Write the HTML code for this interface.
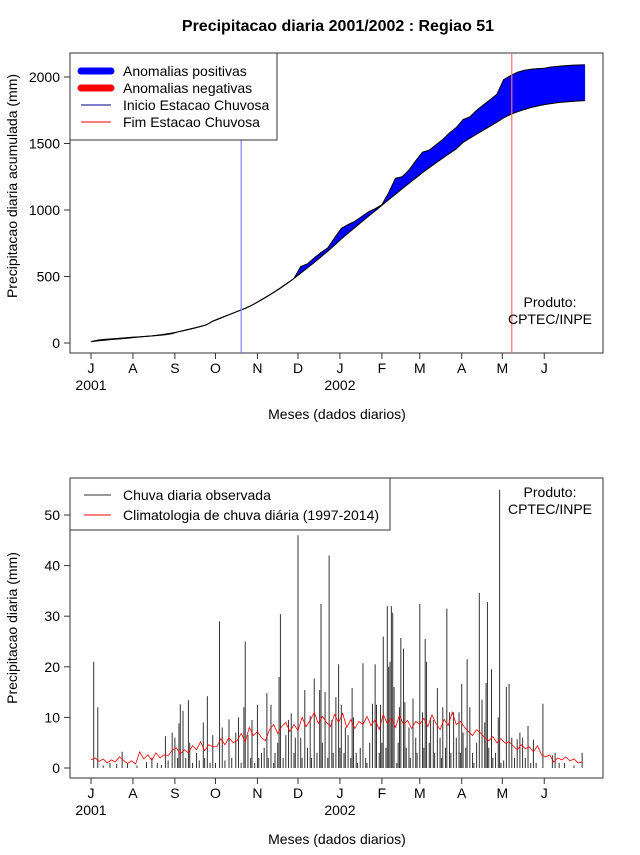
<!DOCTYPE html>
<html><head><meta charset="utf-8"><style>
body{margin:0;background:#fff;}
svg text{font-family:"Liberation Sans",Arial,sans-serif;fill:#000;}
</style></head><body>
<svg id="chart" width="640" height="850" viewBox="0 0 640 850" xmlns="http://www.w3.org/2000/svg">
<rect width="640" height="850" fill="#fff"/>
<text x="338" y="31" font-size="16" font-weight="bold" text-anchor="middle">Precipitacao diaria 2001/2002 : Regiao 51</text>
<g id="top"></g>
<g id="bot"></g>
</svg>
<script>
// ---- data ----
const monthDays = [0,31,62,92,123,153,184,215,243,274,304,335];
const monthLabels = ["J","A","S","O","N","D","J","F","M","A","M","J"];
const yearDays = [0,184];
const yearLabels = ["2001","2002"];
const topTicks = [0,500,1000,1500,2000];
const botTicks = [0,10,20,30,40,50];
const cumDays = [0,5,10,15,20,25,30,35,40,45,50,55,60,65,70,75,80,85,90,95,100,105,110,115,120,125,130,135,140,145,150,155,160,165,170,175,180,185,190,195,200,205,210,215,220,225,230,235,240,245,250,255,260,265,270,275,280,285,290,295,300,305,310,315,320,325,330,335,340,345,350,355,360,365];
const cumClim = [10,16,21,26,30,34,39,44,49,54,60,67,75,85,96,108,121,135,165,185,205,225,245,265,290,320,350,380,415,450,485,525,565,605,648,690,735,782,825,868,910,952,993,1035,1077,1118,1160,1200,1240,1280,1318,1355,1390,1425,1460,1508,1540,1570,1600,1630,1660,1693,1718,1738,1755,1770,1782,1792,1800,1807,1812,1816,1820,1822];
const cumObs = [10,22,27,31,35,39,43,46,50,53,57,62,70,86,98,110,122,136,163,183,205,224,245,265,290,318,348,380,412,448,485,575,595,640,680,715,790,862,890,915,950,985,1010,1040,1130,1238,1250,1300,1370,1435,1450,1490,1530,1580,1620,1680,1700,1750,1790,1830,1870,1980,2010,2035,2050,2058,2063,2066,2075,2080,2085,2088,2090,2092];
const seasonStartDay = 111;
const seasonEndDay = 311;
const obsDay = [2,5,9,14,19,23,27,34,41,45,49,52,55,57,60,62,64,65,66,68,70,72,73,75,78,80,83,84,86,88,90,92,95,97,99,102,104,107,109,111,113,114,116,118,119,121,123,124,126,128,130,131,133,135,136,138,139,140,142,144,146,148,150,151,153,155,156,158,160,162,163,165,167,169,170,171,173,175,176,178,179,181,183,184,185,187,188,190,192,193,194,196,197,199,201,203,204,206,208,210,211,213,214,215,216,218,219,220,221,222,223,224,226,227,228,229,231,232,233,235,236,238,240,241,243,245,246,247,248,250,251,253,254,256,258,259,260,262,263,265,266,268,270,272,273,274,275,277,278,280,282,283,285,287,289,291,292,293,294,296,297,299,301,302,303,305,307,309,311,313,315,317,319,321,323,325,327,329,334,341,343,346,350,357,363];
const obsMm = [21,12,0.5,1,0.8,3.2,1,0.5,1.2,2,1,0.6,6.3,1.5,7,6,2,8.8,12.6,11.3,2,13.4,5,1,3,1.5,9,2,14.2,1,6.5,1,29,8,1.5,9.6,2,7,10,1,12,25,6.5,2,9.5,1,12.5,2,3,4,14.8,2,12.5,1,3,5,18,30.4,2,6.5,9.5,10.8,3,6,46,6,2,15.4,4,10.3,2,17.7,3,15.4,32.4,5,15,2,42,9.5,3,14,20.5,4,12.5,3,8,6.5,2,15.8,10,3,1,4,20.7,2,1,5,12.7,20.5,12.5,3,12.5,5,26,4,32,20,21,32,30.7,16,1,5,12,25.7,23.6,13,4,8,2,13.7,6,3,32.4,11,4,25.5,21,5,10,9.5,3,15.8,6,2,12,4,31.5,11,3,11,6,11,3,16.6,7,4,21.5,12,3,1,5,34.6,13.5,9,16.8,32.8,4,19.5,2,3,10,55,1,1.5,16,16.6,6,2,5.7,7,6,2,8.3,1,5.6,1,12.7,2.5,3,1,1,0.5,3];
const climStep = 3;
const climMm = [1.6,2.0,1.3,1.8,1.0,1.6,1.2,2.2,1.5,0.9,1.4,
0.8,3.2,1.8,2.6,1.5,3.0,2.0,2.6,2.4,3.5,
4.0,2.8,3.6,3.0,4.4,3.6,5.2,3.4,4.6,4.2,
4.2,5.8,4.6,6.0,5.0,5.4,6.8,5.2,8.0,6.4,
7.2,6.0,5.4,7.6,8.6,6.8,8.2,9.0,7.2,8.6,
7.4,10.0,8.2,9.4,11.0,8.8,10.2,9.0,8.2,10.6,9.0,
10.8,8.0,9.6,7.8,9.2,8.6,10.2,8.4,9.6,7.6,
10.6,8.8,9.8,8.0,10.4,8.6,9.4,7.8,9.2,
8.6,9.8,8.2,10.5,8.8,7.6,9.6,8.4,11.0,8.6,9.2,
8.1,7.2,6.4,7.6,6.9,6.0,5.4,6.2,5.0,5.8,
4.9,5.2,4.4,3.6,4.6,3.8,4.2,3.2,4.4,2.6,
2.2,2.6,1.2,2.0,1.6,2.2,1.4,1.8,1.0,1.2];

// ---- helpers ----
const NS="http://www.w3.org/2000/svg";
function mk(parent,tag,attrs,text){const e=document.createElementNS(NS,tag);for(const k in attrs)e.setAttribute(k,attrs[k]);if(text!==undefined)e.textContent=text;parent.appendChild(e);return e;}
const X0=70,X1=603;
function xDay(d){return 91+d*1.353;}

function axes(g,top,bottom,yMap,ticks,ylabel,ylabelY,prefix){
  const box=mk(g,'rect',{x:X0,y:top,width:X1-X0,height:bottom-top,fill:'none',stroke:'#333','stroke-width':1});
  
  
  ticks.forEach(t=>{const y=yMap(t);
    const l=mk(g,'line',{x1:X0-6,x2:X0,y1:y,y2:y,stroke:'#333'});
    
    
    const tx=mk(g,'text',{x:X0-10,y:y+5,'font-size':14,'text-anchor':'end'},String(t));
    
    
  });
  monthDays.forEach((d,i)=>{const x=xDay(d);
    const l=mk(g,'line',{x1:x,x2:x,y1:bottom,y2:bottom+6,stroke:'#333'});
    
    
    const tx=mk(g,'text',{x:x,y:bottom+20,'font-size':14,'text-anchor':'middle'},monthLabels[i]);
    
    
  });
  yearDays.forEach((d,i)=>{
    const tx=mk(g,'text',{x:xDay(d),y:bottom+37,'font-size':14,'text-anchor':'middle'},yearLabels[i]);
    
    
  });
  const xl=mk(g,'text',{x:337,y:bottom+66,'font-size':14,'text-anchor':'middle'},'Meses (dados diarios)');
  
  
  const yl=mk(g,'text',{x:17,y:ylabelY,'font-size':14,'text-anchor':'middle',transform:`rotate(-90 17 ${ylabelY})`},ylabel);
  
  
}

// ---- top chart ----
const gT=document.getElementById('top');
const tTop=53,tBot=353;
function yT(v){return 343-v*0.133;}
axes(gT,tTop,tBot,yT,topTicks,'Precipitacao diaria acumulada (mm)',186,'top');
for(let i=0;i<cumDays.length-1;i++){
  const a=cumDays[i],b=cumDays[i+1];
  const diff=(cumObs[i]-cumClim[i])+(cumObs[i+1]-cumClim[i+1]);
  const pts=`${xDay(a)},${yT(cumObs[i])} ${xDay(b)},${yT(cumObs[i+1])} ${xDay(b)},${yT(cumClim[i+1])} ${xDay(a)},${yT(cumClim[i])}`;
  const p=mk(gT,'polygon',{points:pts,fill:diff>=0?'#0000ff':'#ff0000',stroke:diff>=0?'#0000ff':'#ff0000','stroke-width':0.5});
  
  
}
const obsLine=mk(gT,'polyline',{points:cumDays.map((d,i)=>`${xDay(d)},${yT(cumObs[i])}`).join(' '),fill:'none',stroke:'#000','stroke-width':1});


const climLine=mk(gT,'polyline',{points:cumDays.map((d,i)=>`${xDay(d)},${yT(cumClim[i])}`).join(' '),fill:'none',stroke:'#000','stroke-width':1});


const sL=mk(gT,'line',{x1:xDay(seasonStartDay),x2:xDay(seasonStartDay),y1:tTop,y2:tBot,stroke:'#7f7fff','stroke-width':1.2});


const eL=mk(gT,'line',{x1:xDay(seasonEndDay),x2:xDay(seasonEndDay),y1:tTop,y2:tBot,stroke:'#ff7070','stroke-width':1.2});


// legend top
const lgT=mk(gT,'g',{});


mk(lgT,'rect',{x:70,y:53,width:207,height:87,fill:'#fff',stroke:'#333'});
[['Anomalias positivas','#0000ff',7],['Anomalias negativas','#ff0000',7],['Inicio Estacao Chuvosa','#000080',1],['Fim Estacao Chuvosa','#ff0000',1]].forEach((e,i)=>{
  const y=71+i*17;
  const it=mk(lgT,'g',{});
  
  
  mk(it,'line',{x1:81,x2:111,y1:y,y2:y,stroke:e[1],'stroke-width':e[2],'stroke-linecap':e[2]>2?'round':'butt'});
  mk(it,'text',{x:123,y:y+5,'font-size':14},e[0]);
});
const pT=mk(gT,'text',{x:550,y:307,'font-size':14,'text-anchor':'middle'},'Produto:');


mk(gT,'text',{x:550,y:324,'font-size':14,'text-anchor':'middle'},'CPTEC/INPE');

// ---- bottom chart ----
const gB=document.getElementById('bot');
const bTop=478,bBot=778;
function yB(v){return 768-v*5.06;}
axes(gB,bTop,bBot,yB,botTicks,'Precipitacao diaria (mm)',628,'bottom');
obsDay.forEach((d,i)=>{
  const x=xDay(d);
  const b=mk(gB,'line',{x1:x,x2:x,y1:yB(0),y2:yB(obsMm[i]),stroke:'#333','stroke-width':1});
  
  
});
const cl=mk(gB,'polyline',{points:climMm.map((v,i)=>`${xDay(i*climStep)},${yB(v)}`).join(' '),fill:'none',stroke:'#ff0000','stroke-width':0.8});


const lgB=mk(gB,'g',{});


mk(lgB,'rect',{x:70,y:478,width:320,height:52,fill:'#fff',stroke:'#333'});
[['Chuva diaria observada','#333'],['Climatologia de chuva diária (1997-2014)','#ff0000']].forEach((e,i)=>{
  const y=495+i*20;
  const it=mk(lgB,'g',{});
  
  
  mk(it,'line',{x1:84,x2:111,y1:y,y2:y,stroke:e[1],'stroke-width':1});
  mk(it,'text',{x:123,y:y+5,'font-size':14},e[0]);
});
const pB=mk(gB,'text',{x:550,y:497,'font-size':14,'text-anchor':'middle'},'Produto:');


mk(gB,'text',{x:550,y:514,'font-size':14,'text-anchor':'middle'},'CPTEC/INPE');
</script>
</body></html>
